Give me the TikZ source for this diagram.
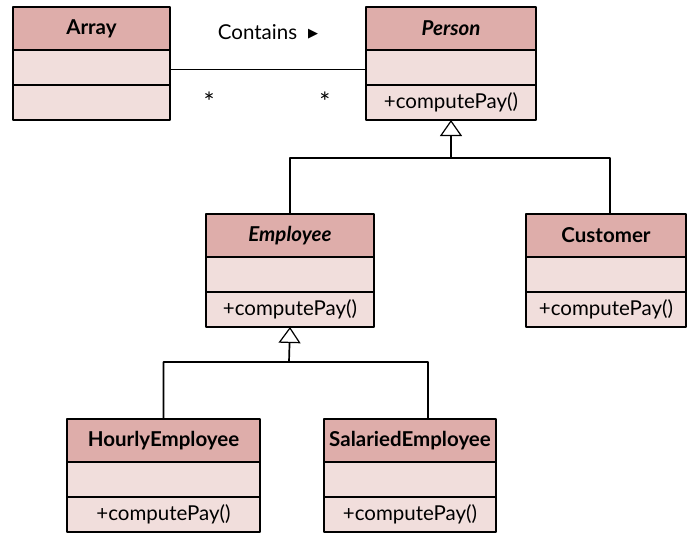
\documentclass[tikz,border=0pt]{standalone}
\usepackage{fontspec}
\setmainfont{Lato}
\newfontfamily\kyhieu{DejaVu Sans}
\usetikzlibrary{positioning,arrows.meta}
\definecolor{tieude}{RGB}{222,173,170}
\definecolor{thanlop}{RGB}{241,222,220}

\begin{document}
\begin{tikzpicture}[x=1pt, y=-1pt, font=\fontsize{20.5}{24}\selectfont, line join=round]
	\tikzset{
		khung/.style={draw, line width=1.7pt, inner sep=0pt, outer sep=0pt, anchor=north},
		tieu de/.style={khung, fill=tieude, minimum height=43pt, font=\fontsize{20.5}{24}\selectfont\bfseries},
		dong/.style={khung, fill=thanlop, minimum height=35pt},
		noi/.style={line width=1.7pt},
		ke thua/.style={noi, -{Triangle[open, fill=white, width=22pt, length=16pt, line width=1.2pt]}}
	}
	%Một lớp: tên, x, y (đỉnh), rộng, tiêu đề, phương thức
	\def\lop#1#2#3#4#5#6{
		\node[tieu de, minimum width=#4] (#1) at (#2,#3) {#5};
		\node[dong, minimum width=#4, below=0pt of #1] (#1-a) {};
		\node[dong, minimum width=#4, below=0pt of #1-a] (#1-m) {#6};
	}
	\useasboundingbox[fill=white] (0,0) rectangle (688,535);
	
	%Các lớp
	\lop{array}{91.5}{7}{157}{Array}{}
	\lop{person}{451}{7}{170}{\itshape Person}{+computePay()}
	\lop{employee}{290}{214}{168}{\itshape Employee}{+computePay()}
	\lop{customer}{606}{214}{160}{Customer}{+computePay()}
	\lop{hourly}{163.5}{419}{193}{HourlyEmployee}{+computePay()}
	\lop{salaried}{410}{419}{172}{SalariedEmployee}{+computePay()}
	
	%Liên kết Array - Person
	\draw[noi] ([yshift=-2pt]array-a.east) -- ([yshift=-2pt]person-a.west)
		node[pos=0.5, above=29pt, inner sep=0pt] (contains) {Contains\; {\kyhieu\fontsize{13}{14}\selectfont\raisebox{1.5pt}{▶}}}
		node[pos=0.2, below=22pt, inner sep=0pt, font=\fontsize{26}{28}\selectfont] (nhieu1) {*}
		node[pos=0.79, below=22pt, inner sep=0pt, font=\fontsize{26}{28}\selectfont] (nhieu2) {*};
	
	%Kế thừa
	\coordinate (nhanh1) at (451,158);
	\coordinate (nhanh2) at (289,362);
	\draw[ke thua] (employee.north) |- (nhanh1) -- (person-m.south);
	\draw[noi] ([xshift=4pt]customer.north) |- (nhanh1);
	\draw[ke thua] (hourly.north) |- (nhanh2) -- (employee-m.south);
	\draw[noi] ([xshift=18pt]salaried.north) |- (nhanh2);
\end{tikzpicture}
\end{document}
